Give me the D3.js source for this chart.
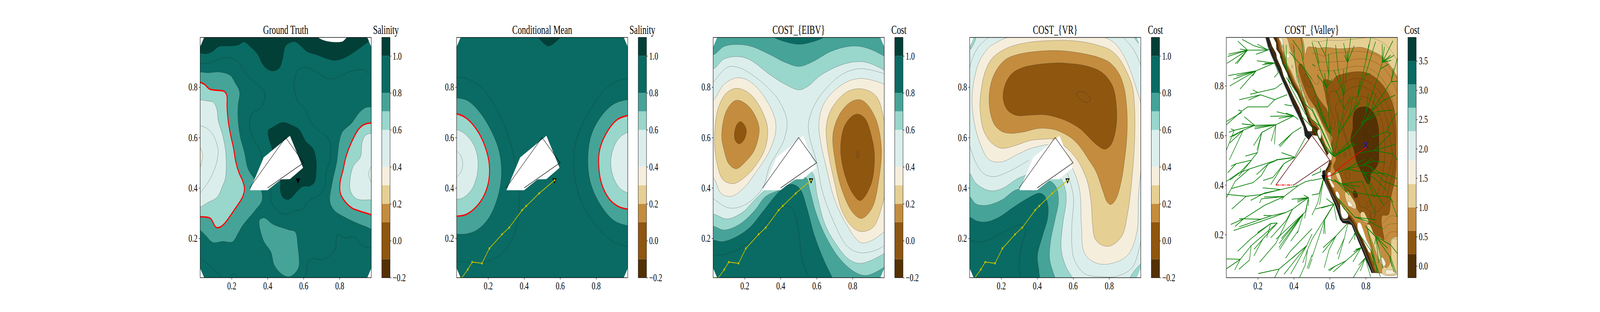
<!DOCTYPE html>
<html lang="en">
<head>
<meta charset="utf-8">
<title>Path planning cost fields</title>
<script src="https://d3js.org/d3.v7.min.js"></script>
<style>
body { margin: 0; background: white; overflow: hidden; }
svg { display: block; }
text { font-family: "Liberation Serif", serif; fill: black; }
</style>
</head>
<body>
<div id="chart"></div>
<script>
// colour bars
var bandColors = ["#543005", "#8f5610", "#c48c3e", "#e6cf93", "#f6eedc", "#dceeeb", "#99d6cc", "#46a398", "#096b63", "#013f37"];
var levelEdges = [-0.2, -0.1, 0.1, 0.2, 0.3, 0.4, 0.6, 0.7, 0.8, 1.0, 1.1];
var valleyEdges = [-0.2, 0.2, 0.6, 1.0, 1.4, 1.8, 2.3, 2.7, 3.1, 3.5, 3.9];
var levelTicks = [-0.2, 0, 0.2, 0.4, 0.6, 0.8, 1.0];
var valleyTicks = [0, 0.5, 1, 1.5, 2, 2.5, 3, 3.5];
var axisTicks = [0.2, 0.4, 0.6, 0.8];

// shared geometry
var obstacle = [[0.3, 0.4], [0.5, 0.6], [0.6, 0.5], [0.4, 0.4]];
var obstacleClosure = [[0.3, 0.4], [0.4, 0.4]];
var obstacleMask = [[0.524, 0.607], [0.597, 0.48], [0.524, 0.435], [0.474, 0.434], [0.4, 0.391], [0.302, 0.391], [0.378, 0.521]];
var cornerMasks = [
  [[0.02, 1.01], [0.047, 1.01], [0.047, 0.997], [0.025, 0.96], [0.02, 0.96]],
  [[0.98, 1.01], [0.954, 1.01], [0.954, 0.997], [0.976, 0.96], [0.98, 0.96]],
  [[0.02, 0.03], [0.047, 0.03], [0.047, 0.044], [0.025, 0.081], [0.02, 0.081]],
  [[0.98, 0.03], [0.954, 0.03], [0.954, 0.044], [0.976, 0.081], [0.98, 0.081]]
];
var agentPath = [[0.05, 0.04], [0.0868, 0.0764], [0.1115, 0.106], [0.166, 0.101], [0.2068, 0.16], [0.2774, 0.216], [0.3174, 0.2428], [0.389, 0.3119], [0.412, 0.3285], [0.4834, 0.3782], [0.5694, 0.4307]];
var agentNow = [0.569, 0.431];

// Ground Truth
var gtTop = [[-0.01, 0.935], [0.025, 0.935], [0.061, 0.932], [0.095, 0.942], [0.129, 0.961], [0.176, 0.963], [0.236, 0.967], [0.27, 0.979], [0.295, 0.966], [0.346, 0.929], [0.372, 0.891], [0.402, 0.87], [0.431, 0.864], [0.466, 0.877], [0.483, 0.911], [0.5, 0.963], [0.551, 0.98], [0.585, 0.963], [0.619, 0.941], [0.67, 0.929], [0.721, 0.915], [0.772, 0.906], [0.823, 0.915], [0.874, 0.936], [0.934, 0.967], [0.99, 1.0], [0.99, 1.03], [-0.01, 1.03]];
var gtTopGap = [[0.675, 1.01], [0.682, 0.997], [0.729, 0.982], [0.806, 0.979], [0.823, 0.984], [0.848, 1.01]];
var gtCentre = [[0.4034, 0.628], [0.4314, 0.642], [0.4825, 0.66], [0.5335, 0.649], [0.5761, 0.631], [0.6101, 0.587], [0.6527, 0.555], [0.6697, 0.511], [0.6697, 0.462], [0.6612, 0.424], [0.6357, 0.408], [0.5931, 0.405], [0.5633, 0.386], [0.5293, 0.36], [0.508, 0.354], [0.4825, 0.365], [0.4706, 0.393], [0.4706, 0.431], [0.4485, 0.476], [0.423, 0.559], [0.4059, 0.6]];
var gtLeftOuter = [[-0.01, 0.8595], [0.0255, 0.8595], [0.074, 0.857], [0.1336, 0.8595], [0.1931, 0.846], [0.2187, 0.818], [0.2442, 0.78], [0.2357, 0.725], [0.2357, 0.669], [0.2485, 0.6], [0.2697, 0.545], [0.291, 0.476], [0.3208, 0.441], [0.3634, 0.393], [0.3693, 0.352], [0.3293, 0.31], [0.2612, 0.251], [0.2357, 0.22], [0.2059, 0.187], [0.1506, 0.188], [0.0953, 0.184], [0.057, 0.21], [0.0255, 0.231], [-0.01, 0.231]];
var gtLeftRed = [[-0.01, 0.83], [0.0255, 0.819], [0.0485, 0.811], [0.0783, 0.792], [0.1251, 0.787], [0.1591, 0.783], [0.1736, 0.766], [0.1744, 0.725], [0.1804, 0.669], [0.1931, 0.614], [0.2102, 0.559], [0.2229, 0.504], [0.24, 0.462], [0.2612, 0.428], [0.2714, 0.397], [0.2612, 0.365], [0.2187, 0.317], [0.1591, 0.258], [0.1336, 0.244], [0.1123, 0.244], [0.0825, 0.279], [0.0485, 0.285], [0.0255, 0.285], [-0.01, 0.285]];
var gtLeftPale = [[-0.01, 0.749], [0.0255, 0.749], [0.0655, 0.745], [0.0995, 0.739], [0.1183, 0.711], [0.1251, 0.669], [0.1506, 0.607], [0.1676, 0.538], [0.1659, 0.441], [0.1506, 0.41], [0.1208, 0.365], [0.0655, 0.341], [0.0255, 0.324], [-0.01, 0.31]];
var gtLeftInner = [[0.0255, 0.647], [0.0655, 0.635], [0.0995, 0.607], [0.1208, 0.566], [0.1251, 0.538], [0.1123, 0.49], [0.074, 0.428], [0.0255, 0.381]];
var gtLeftCream = [[0.0, 0.559], [0.0255, 0.559], [0.0357, 0.538], [0.0383, 0.524], [0.0315, 0.497], [0.0255, 0.483], [0.0, 0.483]];
var gtRightOuter = [[1.0, 0.721], [0.976, 0.721], [0.9463, 0.719], [0.9122, 0.701], [0.8654, 0.656], [0.8144, 0.621], [0.7973, 0.58], [0.7846, 0.504], [0.759, 0.421], [0.7463, 0.345], [0.7718, 0.31], [0.8229, 0.286], [0.891, 0.262], [0.976, 0.236], [1.0, 0.22]];
var gtRightRed = [[1.0, 0.658], [0.976, 0.658], [0.9378, 0.652], [0.908, 0.635], [0.8654, 0.58], [0.8357, 0.524], [0.8187, 0.469], [0.8025, 0.421], [0.8042, 0.379], [0.8314, 0.345], [0.8697, 0.32], [0.9165, 0.307], [0.976, 0.293], [1.0, 0.28]];
var gtRightPale = [[1.0, 0.61], [0.976, 0.616], [0.942, 0.607], [0.925, 0.58], [0.9165, 0.524], [0.874, 0.483], [0.857, 0.421], [0.8612, 0.386], [0.8952, 0.357], [0.976, 0.353], [1.0, 0.353]];
var gtRightInner = [[0.976, 0.486], [0.9607, 0.455], [0.976, 0.422]];
var gtSouth = [[0.3548, 0.272], [0.3804, 0.281], [0.4314, 0.255], [0.5165, 0.234], [0.5548, 0.224], [0.5676, 0.172], [0.5736, 0.089], [0.5506, 0.061], [0.5165, 0.048], [0.474, 0.061], [0.4357, 0.096], [0.4187, 0.145], [0.3804, 0.186], [0.3634, 0.22], [0.3531, 0.255]];
var gtLine1 = [[0.0255, 0.894], [0.0783, 0.897], [0.1421, 0.915], [0.2017, 0.915], [0.2442, 0.891], [0.2782, 0.853], [0.3293, 0.818], [0.3846, 0.777], [0.3804, 0.745], [0.3634, 0.718], [0.3123, 0.694], [0.2995, 0.656], [0.3123, 0.607], [0.3548, 0.552], [0.3804, 0.49], [0.417, 0.386], [0.4187, 0.352], [0.4485, 0.314], [0.4995, 0.296], [0.5506, 0.31], [0.5931, 0.317], [0.6272, 0.348], [0.6867, 0.372], [0.7165, 0.407], [0.725, 0.462], [0.7463, 0.511], [0.7506, 0.559], [0.7378, 0.597], [0.6697, 0.635], [0.6357, 0.669], [0.6144, 0.707], [0.5676, 0.745], [0.5506, 0.78], [0.5489, 0.828], [0.5676, 0.866], [0.6101, 0.879], [0.6612, 0.863], [0.7463, 0.832], [0.7888, 0.839], [0.8484, 0.859], [0.9335, 0.868], [0.976, 0.842]];
var gtLine2 = [[0.6118, 0.0434], [0.6272, 0.11], [0.6527, 0.12], [0.6952, 0.115], [0.7378, 0.127], [0.7761, 0.158], [0.7846, 0.21], [0.7973, 0.214], [0.8314, 0.201], [0.8825, 0.206], [0.925, 0.172], [0.976, 0.164]];
var gtLine3 = [[0.0255, 0.122], [0.0825, 0.089], [0.1251, 0.061], [0.1438, 0.043]];
var gtLine4 = [[0.1863, 0.043], [0.2102, 0.059], [0.24, 0.043]];

// Conditional Mean
var cmTop = [[0.47, 1.01], [0.4799, 0.997], [0.5097, 0.9735], [0.5352, 0.963], [0.565, 0.9735], [0.6, 0.997], [0.61, 1.01]];
var cmLeftLine = [[0.0255, 0.84], [0.0885, 0.832], [0.1736, 0.79], [0.2587, 0.697], [0.3268, 0.573], [0.3693, 0.393], [0.3651, 0.269], [0.3268, 0.186], [0.2587, 0.13], [0.1651, 0.104], [0.0885, 0.104], [0.0255, 0.11]];
var cmLeftOuter = [[-0.01, 0.757], [0.0255, 0.757], [0.0885, 0.745], [0.1566, 0.697], [0.2161, 0.628], [0.2587, 0.552], [0.274, 0.476], [0.2672, 0.407], [0.2417, 0.338], [0.1991, 0.276], [0.1395, 0.234], [0.08, 0.218], [0.0255, 0.217], [-0.01, 0.217]];
var cmLeftRed = [[-0.01, 0.694], [0.0255, 0.694], [0.08, 0.676], [0.1395, 0.628], [0.1821, 0.566], [0.2059, 0.497], [0.2034, 0.428], [0.1736, 0.365], [0.1225, 0.317], [0.0715, 0.293], [0.0255, 0.288], [-0.01, 0.288]];
var cmLeftPale = [[-0.01, 0.631], [0.0255, 0.631], [0.0715, 0.614], [0.1183, 0.573], [0.1412, 0.524], [0.1412, 0.462], [0.114, 0.4], [0.063, 0.362], [0.0255, 0.355], [-0.01, 0.355]];
var cmLeftInner = [[0.0255, 0.545], [0.0459, 0.531], [0.0587, 0.493], [0.0459, 0.459], [0.0255, 0.445]];
var cmRightLine = [[0.976, 0.833], [0.897, 0.818], [0.8118, 0.759], [0.7267, 0.656], [0.6842, 0.573], [0.6757, 0.504], [0.6842, 0.428], [0.7267, 0.331], [0.7948, 0.255], [0.8799, 0.193], [0.976, 0.167]];
var cmRightOuter = [[1.0, 0.75], [0.976, 0.75], [0.897, 0.732], [0.8203, 0.676], [0.7693, 0.6], [0.7548, 0.504], [0.7693, 0.421], [0.8203, 0.338], [0.897, 0.272], [0.976, 0.251], [1.0, 0.251]];
var cmRightRed = [[1.0, 0.687], [0.976, 0.687], [0.914, 0.669], [0.8544, 0.614], [0.8203, 0.552], [0.8144, 0.497], [0.8289, 0.421], [0.8714, 0.358], [0.9225, 0.327], [0.976, 0.316], [1.0, 0.316]];
var cmRightPale = [[1.0, 0.62], [0.976, 0.62], [0.931, 0.6], [0.897, 0.559], [0.8816, 0.5], [0.897, 0.441], [0.931, 0.4], [0.976, 0.381], [1.0, 0.381]];

// COST_{EIBV}
var eibvTopPale = [[0.0, 0.89], [0.0255, 0.873], [0.0851, 0.911], [0.1617, 0.921], [0.2297, 0.908], [0.3404, 0.849], [0.4255, 0.811], [0.5021, 0.789], [0.5531, 0.804], [0.6212, 0.846], [0.7233, 0.884], [0.8, 0.899], [0.8765, 0.898], [0.9769, 0.866], [1.0, 0.85], [1.0, 1.02], [0.0, 1.02]];
var eibvTopMid = [[0.0, 0.945], [0.0255, 0.929], [0.0851, 0.961], [0.1617, 0.969], [0.2382, 0.961], [0.3404, 0.929], [0.4255, 0.898], [0.5021, 0.882], [0.5702, 0.898], [0.6808, 0.942], [0.7659, 0.96], [0.834, 0.962], [0.902, 0.949], [0.9769, 0.922], [1.0, 0.91], [1.0, 1.02], [0.0, 1.02]];
var eibvTopDeep = [[0.35, 1.01], [0.3659, 0.997], [0.4255, 0.98], [0.5021, 0.97], [0.5787, 0.98], [0.6382, 0.997], [0.655, 1.01]];
var eibvLeftCream = [[-0.01, 0.749], [0.0255, 0.749], [0.0851, 0.811], [0.1617, 0.837], [0.2382, 0.818], [0.3234, 0.745], [0.3702, 0.669], [0.3702, 0.614], [0.3319, 0.538], [0.2553, 0.455], [0.2042, 0.407], [0.1276, 0.367], [0.068, 0.379], [0.0255, 0.441], [-0.01, 0.441]];
var eibvLeftSand = [[0.0323, 0.6], [0.051, 0.711], [0.0936, 0.773], [0.1532, 0.795], [0.2297, 0.773], [0.2978, 0.704], [0.3276, 0.635], [0.3148, 0.559], [0.2553, 0.483], [0.1872, 0.435], [0.1361, 0.417], [0.0766, 0.435], [0.0425, 0.511]];
var eibvLeftTan = [[0.0723, 0.607], [0.0936, 0.697], [0.1361, 0.742], [0.1702, 0.747], [0.2297, 0.718], [0.2723, 0.663], [0.2808, 0.625], [0.2553, 0.552], [0.2042, 0.504], [0.1532, 0.476], [0.1106, 0.497], [0.0851, 0.552]];
var eibvLeftDeep = [[0.1429, 0.614], [0.1574, 0.652], [0.1787, 0.663], [0.2042, 0.642], [0.2093, 0.621], [0.1957, 0.59], [0.1702, 0.575], [0.1489, 0.587]];
var eibvRightLine = [[0.9769, 0.853], [0.8382, 0.873], [0.7233, 0.842], [0.5957, 0.739], [0.5548, 0.656], [0.5616, 0.6], [0.6, 0.504], [0.6297, 0.393], [0.6808, 0.289], [0.7659, 0.172], [0.8425, 0.143], [0.9361, 0.155], [0.9769, 0.172]];
var eibvLeftLine = [[0.0255, 0.818], [0.1021, 0.878], [0.1702, 0.877], [0.2978, 0.818], [0.3914, 0.745], [0.4357, 0.663], [0.417, 0.587], [0.3744, 0.531], [0.3404, 0.49], [0.2995, 0.4], [0.2042, 0.334], [0.1106, 0.321], [0.0255, 0.358]];
var eibvRightCream = [[1.0, 0.8], [0.9769, 0.811], [0.834, 0.834], [0.7233, 0.801], [0.6382, 0.732], [0.6127, 0.656], [0.6212, 0.587], [0.6552, 0.476], [0.6978, 0.358], [0.7659, 0.255], [0.8425, 0.184], [0.9106, 0.193], [0.9769, 0.227], [1.0, 0.24]];
var eibvRightSand = [[1.0, 0.55], [0.9769, 0.663], [0.9361, 0.759], [0.8595, 0.792], [0.7659, 0.78], [0.6808, 0.711], [0.6535, 0.642], [0.6638, 0.545], [0.6978, 0.428], [0.7403, 0.31], [0.8, 0.244], [0.851, 0.227], [0.919, 0.248], [0.9769, 0.365], [1.0, 0.45]];
var eibvRightTan = [[0.691, 0.614], [0.7318, 0.697], [0.8, 0.745], [0.8595, 0.745], [0.9276, 0.676], [0.9599, 0.559], [0.9446, 0.428], [0.9106, 0.324], [0.851, 0.279], [0.8, 0.303], [0.7403, 0.393], [0.7021, 0.511]];
var eibvRightDeep = [[0.7335, 0.559], [0.7574, 0.649], [0.8169, 0.692], [0.868, 0.676], [0.9106, 0.587], [0.9216, 0.517], [0.902, 0.414], [0.8425, 0.35], [0.8, 0.379], [0.7531, 0.462]];
var eibvRightCore = [[0.828, 0.546], [0.8365, 0.533], [0.828, 0.519], [0.8212, 0.533]];
var eibvLowPale = [[-0.02, 0.29], [0.0255, 0.296], [0.1021, 0.277], [0.1872, 0.303], [0.2553, 0.352], [0.3148, 0.391], [0.45, 0.44], [0.5744, 0.462], [0.6042, 0.365], [0.6467, 0.255], [0.7063, 0.179], [0.7744, 0.12], [0.8425, 0.101], [0.9769, 0.141], [1.02, 0.17], [1.02, 0.02], [-0.02, 0.02]];
var eibvLowMid = [[-0.02, 0.24], [0.0255, 0.248], [0.0851, 0.233], [0.1702, 0.255], [0.2553, 0.31], [0.3148, 0.365], [0.3914, 0.391], [0.5404, 0.441], [0.5616, 0.393], [0.5957, 0.303], [0.6467, 0.213], [0.7233, 0.124], [0.8085, 0.068], [0.8765, 0.053], [0.9769, 0.086], [1.02, 0.11], [1.02, 0.02], [-0.02, 0.02]];
var eibvLowDeep = [[-0.02, 0.19], [0.0255, 0.193], [0.0766, 0.187], [0.1532, 0.206], [0.2297, 0.244], [0.2978, 0.303], [0.3744, 0.372], [0.4255, 0.407], [0.468, 0.414], [0.5106, 0.393], [0.5446, 0.324], [0.5871, 0.213], [0.6382, 0.117], [0.6876, 0.043], [0.7, 0.02], [-0.02, 0.02]];
var eibvLowLine = [[0.0255, 0.133], [0.0851, 0.136], [0.1702, 0.158], [0.2553, 0.206], [0.3404, 0.276], [0.4085, 0.321], [0.4425, 0.327], [0.4765, 0.303], [0.5021, 0.213], [0.5191, 0.117], [0.5574, 0.043]];

// COST_{VR}
var vrCream = [[0.0398, 0.7175], [0.0398, 0.7795], [0.0547, 0.8467], [0.0794, 0.9036], [0.1289, 0.9553], [0.1783, 0.9786], [0.2352, 0.9967], [0.4, 1.015], [0.62, 1.015], [0.7768, 0.9967], [0.8361, 0.9708], [0.8856, 0.9191], [0.9251, 0.8519], [0.9598, 0.7744], [0.9771, 0.733], [0.985, 0.6], [0.9778, 0.483], [0.9633, 0.372], [0.9548, 0.227], [0.908, 0.1374], [0.8059, 0.0994], [0.7208, 0.1042], [0.6612, 0.1443], [0.6459, 0.2549], [0.6357, 0.393], [0.5931, 0.483], [0.508, 0.566], [0.3761, 0.559], [0.2953, 0.5347], [0.2017, 0.5036], [0.1293, 0.514], [0.0794, 0.583], [0.0547, 0.6451]];
var vrSand = [[0.0819, 0.7382], [0.0893, 0.7899], [0.1091, 0.8571], [0.1437, 0.9088], [0.1932, 0.9398], [0.2624, 0.9631], [0.3613, 0.9786], [0.5048, 0.9853], [0.5641, 0.9853], [0.663, 0.9786], [0.752, 0.9631], [0.8064, 0.9475], [0.8559, 0.9139], [0.9004, 0.857], [0.9301, 0.8002], [0.9425, 0.7071], [0.9425, 0.6037], [0.9378, 0.5313], [0.9208, 0.393], [0.9038, 0.3032], [0.8739, 0.2134], [0.8144, 0.172], [0.7633, 0.172], [0.7208, 0.2], [0.708, 0.2549], [0.6995, 0.3447], [0.6782, 0.4276], [0.6357, 0.4967], [0.6234, 0.5107], [0.5888, 0.5417], [0.5443, 0.5701], [0.4899, 0.5934], [0.4355, 0.5934], [0.3613, 0.5882], [0.2871, 0.5701], [0.213, 0.5572], [0.1783, 0.5624], [0.1338, 0.5882], [0.0992, 0.6348], [0.0843, 0.6968]];
var vrTan = [[0.1328, 0.7588], [0.1437, 0.8157], [0.1734, 0.8674], [0.2228, 0.9088], [0.292, 0.9295], [0.4108, 0.9424], [0.5048, 0.945], [0.5641, 0.9424], [0.663, 0.932], [0.7471, 0.9165], [0.8064, 0.8958], [0.8559, 0.8519], [0.8856, 0.7899], [0.9004, 0.6865], [0.8979, 0.5934], [0.8856, 0.5107], [0.8697, 0.4345], [0.8399, 0.3585], [0.8101, 0.3343], [0.7888, 0.3447], [0.7633, 0.393], [0.7293, 0.4622], [0.6877, 0.5107], [0.6333, 0.5675], [0.5888, 0.5986], [0.5394, 0.6193], [0.4899, 0.6322], [0.4108, 0.6363], [0.3218, 0.6218], [0.2476, 0.6167], [0.203, 0.6244], [0.1635, 0.6503], [0.1388, 0.702]];
var vrDeep = [[0.2105, 0.764], [0.2228, 0.8105], [0.2575, 0.8519], [0.3119, 0.8752], [0.386, 0.8881], [0.5048, 0.8958], [0.5641, 0.8943], [0.663, 0.8855], [0.752, 0.8622], [0.7966, 0.8312], [0.8262, 0.7899], [0.8426, 0.6968], [0.8361, 0.6296], [0.8114, 0.5727], [0.7768, 0.5536], [0.7372, 0.5676], [0.6976, 0.5934], [0.6383, 0.6348], [0.5641, 0.6658], [0.4899, 0.6839], [0.4355, 0.6906], [0.3613, 0.689], [0.2871, 0.6875], [0.2377, 0.7071], [0.2179, 0.733]];
var vrCore = [[0.6195, 0.7744], [0.6333, 0.7831], [0.6581, 0.7806], [0.6828, 0.7682], [0.6952, 0.7537], [0.6877, 0.7407], [0.668, 0.7392], [0.6432, 0.7495], [0.6234, 0.764]];
var vrLineNW = [[0.025, 0.8752], [0.0398, 0.914], [0.0744, 0.9605], [0.1289, 0.9967]];
var vrLineNE = [[0.8782, 0.9967], [0.935, 0.9501], [0.9771, 0.8855]];
var vrLineW = [[0.0255, 0.566], [0.057, 0.5036], [0.0995, 0.4587], [0.1591, 0.4449], [0.2527, 0.469], [0.3548, 0.5105]];
var vrLineS = [[0.5676, 0.4587], [0.6016, 0.3654], [0.5931, 0.2549], [0.5931, 0.172], [0.6059, 0.1167], [0.6612, 0.0614], [0.7633, 0.0476], [0.8484, 0.051], [0.9335, 0.089], [0.9778, 0.1961]];
var vrLowPale = [[-0.02, 0.48], [0.0255, 0.4587], [0.057, 0.4207], [0.1336, 0.3896], [0.2017, 0.3965], [0.3038, 0.4414], [0.4229, 0.462], [0.5293, 0.438], [0.5548, 0.4], [0.5616, 0.3516], [0.5421, 0.2549], [0.5335, 0.1581], [0.5591, 0.089], [0.5974, 0.0434], [0.62, 0.02], [-0.02, 0.02]];
var vrLowMid = [[-0.02, 0.38], [0.0255, 0.3655], [0.057, 0.3378], [0.1166, 0.3309], [0.2017, 0.3516], [0.2868, 0.3931], [0.3974, 0.391], [0.4655, 0.4276], [0.508, 0.4], [0.5182, 0.3447], [0.4995, 0.2756], [0.474, 0.1858], [0.4697, 0.1167], [0.4995, 0.0434], [0.51, 0.02], [-0.02, 0.02]];
var vrLowDeep = [[-0.02, 0.29], [0.0255, 0.2839], [0.0655, 0.2687], [0.1166, 0.2652], [0.1846, 0.2825], [0.2697, 0.324], [0.3463, 0.3585], [0.4144, 0.3792], [0.4442, 0.3654], [0.4612, 0.324], [0.457, 0.2756], [0.4314, 0.2134], [0.4016, 0.1305], [0.4101, 0.0683], [0.4101, 0.02], [-0.02, 0.02]];
var vrLowLine = [[0.0255, 0.1927], [0.074, 0.1858], [0.1506, 0.2], [0.2357, 0.2341], [0.3123, 0.2528], [0.3361, 0.2376], [0.3123, 0.165], [0.2995, 0.0999], [0.3055, 0.0434]];
var vrPatchNW = [[0.03, 0.9656], [0.0472, 0.9967], [0.0596, 0.9967], [0.03, 0.95]];
var vrPatchNE = [[0.9404, 0.9985], [0.955, 0.9985], [0.968, 0.975], [0.962, 0.975]];
var vrPatchSE = [[0.9165, 0.0434], [0.9778, 0.0998], [0.99, 0.0998], [0.99, 0.03], [0.9165, 0.03]];

// COST_{Valley}
var valleyEastEdge = [[0.9680, 0.0443], [0.9764, 0.077], [0.977, 0.9576], [0.9515, 0.995], [0.9515, 1.01]];
var valleyField = [[0.2855, 1.01], [0.2855, 0.995], [0.3013, 0.9732], [0.3038, 0.947], [0.321, 0.9286], [0.3359, 0.8893], [0.3606, 0.8526], [0.3853, 0.8107], [0.4149, 0.774], [0.4396, 0.7347], [0.4643, 0.6902], [0.4816, 0.6535], [0.5014, 0.6326], [0.5014, 0.601], [0.5308, 0.5985], [0.5407, 0.5828], [0.558, 0.5592], [0.585, 0.5173], [0.6, 0.5013], [0.5877, 0.4751], [0.5753, 0.4594], [0.563, 0.4552], [0.558, 0.4489], [0.5679, 0.4174], [0.6074, 0.3546], [0.6716, 0.2471], [0.721, 0.2393], [0.8322, 0.0454]];
var valleyFieldMid = [[0.2963, 1.01], [0.3112, 0.9732], [0.3161, 0.947], [0.331, 0.9286], [0.3457, 0.8893], [0.368, 0.8579], [0.3927, 0.816], [0.4223, 0.7793], [0.447, 0.74], [0.4717, 0.6954], [0.489, 0.664], [0.5014, 0.643], [0.5259, 0.6326], [0.5407, 0.6168], [0.5506, 0.5906], [0.5654, 0.5644], [0.5926, 0.5225], [0.605, 0.4856], [0.5951, 0.4698], [0.5802, 0.4515], [0.5827, 0.4253], [0.6198, 0.3703], [0.6642, 0.3022], [0.7136, 0.2707], [0.7433, 0.234], [0.7778, 0.1816], [0.8075, 0.1345], [0.842, 0.0611], [0.8519, 0.0454]];
var valleyFieldTan = [[0.3087, 1.01], [0.321, 0.9732], [0.3285, 0.947], [0.3408, 0.926], [0.3556, 0.8893], [0.3779, 0.8579], [0.4026, 0.816], [0.4297, 0.7819], [0.4569, 0.74], [0.4791, 0.6954], [0.4964, 0.664], [0.516, 0.6535], [0.5432, 0.6247], [0.558, 0.5906], [0.5753, 0.5592], [0.6, 0.5173], [0.6124, 0.4908], [0.6074, 0.4777], [0.5975, 0.4463], [0.595, 0.4174], [0.6296, 0.3703], [0.6741, 0.3074], [0.7186, 0.276], [0.7531, 0.2393], [0.7877, 0.1869], [0.8174, 0.1345], [0.8519, 0.0611], [0.8618, 0.0454]];
var valleySandStripe = [[0.3186, 0.9967], [0.331, 0.9732], [0.3359, 0.947], [0.3482, 0.926], [0.363, 0.8893], [0.3853, 0.8579], [0.41, 0.816], [0.4347, 0.7819], [0.4618, 0.74], [0.4841, 0.6954], [0.5014, 0.664], [0.521, 0.6483], [0.5457, 0.6221], [0.5605, 0.5906], [0.5778, 0.5592], [0.6025, 0.5173], [0.6173, 0.5173], [0.6074, 0.5592], [0.5827, 0.6064], [0.563, 0.6378], [0.5358, 0.6797], [0.5111, 0.711], [0.494, 0.711], [0.4643, 0.7531], [0.4445, 0.795], [0.4198, 0.8474], [0.4026, 0.905], [0.3803, 0.947], [0.3606, 0.9941]];
var valleySandTop = [[0.4445, 1.0], [0.4544, 0.9732], [0.4643, 0.926], [0.4766, 0.9548], [0.5014, 0.9564], [0.5358, 0.9522], [0.5802, 0.9548], [0.6494, 0.9496], [0.7136, 0.9522], [0.7778, 0.9548], [0.847, 0.9365], [0.8964, 0.9155], [0.9359, 0.8815], [0.9764, 0.8369], [0.99, 0.83], [0.99, 1.01], [0.44, 1.01]];
var valleySandSouth = [[0.9384, 0.1764], [0.9606, 0.1895], [0.9829, 0.1869], [0.983, 0.0454], [0.8915, 0.0428], [0.8964, 0.0716], [0.9162, 0.0664], [0.9359, 0.0873], [0.9409, 0.1345]];
var valleyDeep = [[0.4297, 0.8867], [0.4445, 0.8867], [0.4643, 0.8579], [0.5014, 0.8081], [0.5308, 0.7583], [0.5605, 0.7269], [0.5827, 0.7059], [0.5891, 0.6944], [0.5936, 0.6981], [0.5802, 0.7426], [0.5728, 0.774], [0.563, 0.8055], [0.5654, 0.8238], [0.5901, 0.8238], [0.6124, 0.8186], [0.6346, 0.8369], [0.6741, 0.8474], [0.7235, 0.8553], [0.7778, 0.8563], [0.8223, 0.8474], [0.8717, 0.8212], [0.9211, 0.774], [0.9557, 0.711], [0.968, 0.6378], [0.968, 0.5592], [0.968, 0.5173], [0.968, 0.4646], [0.9606, 0.4174], [0.9409, 0.3546], [0.926, 0.2812], [0.8915, 0.276], [0.8865, 0.2602], [0.8915, 0.2236], [0.9013, 0.179], [0.8816, 0.1895], [0.8569, 0.1974], [0.8272, 0.2236], [0.8075, 0.2498], [0.768, 0.2864], [0.7457, 0.31], [0.7186, 0.3493], [0.6889, 0.3755], [0.6642, 0.4122], [0.6346, 0.4489], [0.6198, 0.4751], [0.6346, 0.5065], [0.605, 0.5487], [0.6148, 0.5906], [0.5802, 0.6221], [0.5506, 0.664], [0.5259, 0.7059], [0.5012, 0.7321], [0.4791, 0.7583], [0.4544, 0.8002], [0.4396, 0.8317], [0.4273, 0.8684]];
var valleyCore = [[0.7284, 0.6483], [0.7334, 0.6902], [0.7531, 0.7085], [0.7927, 0.7154], [0.8223, 0.7085], [0.8519, 0.6797], [0.8692, 0.6378], [0.8727, 0.5854], [0.8727, 0.5173], [0.8717, 0.496], [0.8569, 0.4698], [0.8272, 0.4436], [0.8248, 0.4174], [0.8174, 0.4043], [0.8075, 0.407], [0.7828, 0.4436], [0.7482, 0.496], [0.7334, 0.5435], [0.7161, 0.58], [0.721, 0.6064], [0.7284, 0.6273]];
var valleyCoreSmall = [[0.7284, 0.3677], [0.7383, 0.3781], [0.7531, 0.365], [0.7531, 0.3519], [0.7383, 0.3483], [0.7309, 0.3572]];
var valleySandBlobs = [
  [[0.6321, 0.4489], [0.6445, 0.4541], [0.6642, 0.4227], [0.6667, 0.3991], [0.6494, 0.4174], [0.637, 0.4332]],
  [[0.684, 0.3677], [0.6988, 0.3729], [0.7235, 0.3493], [0.7433, 0.3231], [0.7457, 0.3048], [0.7235, 0.3074], [0.6988, 0.3231]],
  [[0.7704, 0.2864], [0.7877, 0.2917], [0.805, 0.2707], [0.8174, 0.2498], [0.7976, 0.2498], [0.7754, 0.2655]],
  [[0.8075, 0.2393], [0.8223, 0.2393], [0.847, 0.1974], [0.8569, 0.1764], [0.8816, 0.1292], [0.8865, 0.0978], [0.8717, 0.103], [0.842, 0.1607], [0.8174, 0.2078]]
];
var valleyCreamBlobs = [
  [[0.6963, 0.3336], [0.7087, 0.3336], [0.7284, 0.3153], [0.7136, 0.3126]],
  [[0.8816, 0.0978], [0.8915, 0.1083], [0.9112, 0.0821], [0.9013, 0.0716], [0.8865, 0.0821]],
  [[0.9112, 0.0559], [0.9458, 0.0559], [0.9656, 0.0454], [0.9112, 0.042]],
  [[0.3161, 0.9915], [0.3334, 0.9915], [0.3408, 0.9732], [0.3359, 0.9574], [0.326, 0.9784]],
  [[0.5308, 0.6168], [0.5432, 0.6247], [0.5531, 0.6011], [0.5457, 0.5854]],
  [[0.585, 0.5173], [0.6, 0.5304], [0.6124, 0.5094], [0.6025, 0.4989]]
];
var valleyHoles = [
  [[0.5901, 0.4489], [0.6025, 0.4515], [0.6074, 0.4174], [0.6247, 0.3939], [0.6173, 0.3897], [0.6, 0.4122], [0.5891, 0.4358]],
  [[0.6321, 0.3703], [0.642, 0.3729], [0.6543, 0.3546], [0.6519, 0.3441], [0.642, 0.3493]],
  [[0.6593, 0.3231], [0.6741, 0.3074], [0.7013, 0.2812], [0.6988, 0.2681], [0.6741, 0.2655], [0.6618, 0.2864]],
  [[0.7556, 0.2445], [0.768, 0.2471], [0.7828, 0.2236], [0.8025, 0.1816], [0.8272, 0.1397], [0.8223, 0.1266], [0.8025, 0.1502], [0.7828, 0.1816], [0.7556, 0.2236]],
  [[0.8371, 0.103], [0.843, 0.0978], [0.8396, 0.0952]],
  [[0.7013, 0.3242], [0.7112, 0.3257], [0.7146, 0.3168], [0.7062, 0.3153]],
  [[0.3606, 0.926], [0.368, 0.9286], [0.3729, 0.9181], [0.3655, 0.9145]]
];
var valleyWallUpper = [[0.2375, 1.01], [0.2568, 0.9574], [0.2766, 0.9208], [0.3062, 0.8736], [0.3359, 0.8212], [0.3655, 0.774], [0.3951, 0.7216], [0.4248, 0.6797], [0.4544, 0.6326], [0.4618, 0.5985], [0.4816, 0.5828], [0.5014, 0.6011], [0.5014, 0.6037], [0.4767, 0.6195], [0.4569, 0.6561], [0.4297, 0.7112], [0.4001, 0.7531], [0.368, 0.8029], [0.3433, 0.8395], [0.331, 0.871], [0.3062, 0.9103], [0.3013, 0.9312], [0.279, 0.96], [0.2642, 0.9915], [0.262, 1.01]];
var valleyWallUpperBrown = [[0.2519, 1.01], [0.2692, 0.9574], [0.289, 0.9208], [0.3186, 0.8736], [0.3482, 0.8212], [0.3779, 0.774], [0.4075, 0.7216], [0.4371, 0.6797], [0.4643, 0.6378], [0.4767, 0.6168], [0.5014, 0.6168], [0.5014, 0.6037], [0.4767, 0.6195], [0.4569, 0.6561], [0.4297, 0.7112], [0.4001, 0.7531], [0.368, 0.8029], [0.3433, 0.8395], [0.331, 0.871], [0.3062, 0.9103], [0.3013, 0.9312], [0.279, 0.96], [0.2642, 0.9915], [0.262, 1.01]];
var valleyWallUpperEdge = [[0.2375, 1.01], [0.2568, 0.9574], [0.2766, 0.9208], [0.3062, 0.8736], [0.3359, 0.8212], [0.3655, 0.774], [0.3951, 0.7216], [0.4248, 0.6797], [0.4544, 0.6326], [0.4618, 0.5985]];
var valleyWallLowerOut = [[0.558, 0.4552], [0.5605, 0.4332], [0.5679, 0.4174], [0.5901, 0.386], [0.6074, 0.3546], [0.6222, 0.3336], [0.6395, 0.2969], [0.6568, 0.2602], [0.6716, 0.2471], [0.7087, 0.2445], [0.721, 0.2393], [0.7383, 0.2078], [0.763, 0.1659], [0.7877, 0.124], [0.8075, 0.0873], [0.8322, 0.0454]];
var valleyWallLowerIn = [[0.842, 0.0454], [0.8223, 0.0821], [0.8025, 0.1135], [0.7828, 0.1502], [0.763, 0.1816], [0.7433, 0.2131], [0.7284, 0.2419], [0.7087, 0.2576], [0.6741, 0.2576], [0.6618, 0.276], [0.6494, 0.3022], [0.6346, 0.3284], [0.6198, 0.3493], [0.5975, 0.3781], [0.5778, 0.4122], [0.5753, 0.4279], [0.5778, 0.4567], [0.5679, 0.4604]];
var valleyLines = [
  [[0.5012, 0.981], [0.5457, 0.9784], [0.5852, 0.9836], [0.6593, 0.9826], [0.7383, 0.9889], [0.8025, 0.9941]],
  [[0.8322, 0.9941], [0.8964, 0.9732], [0.9458, 0.9365], [0.9764, 0.8998]],
  [[0.5012, 0.9312], [0.5308, 0.9286], [0.5704, 0.9197], [0.6148, 0.9312], [0.6642, 0.9339], [0.7383, 0.9391], [0.8174, 0.9339], [0.8766, 0.9181], [0.926, 0.8788], [0.9764, 0.8264]],
  [[0.5308, 0.8998], [0.5802, 0.8946], [0.6247, 0.8972], [0.6889, 0.8998], [0.7482, 0.9077], [0.8174, 0.905], [0.8865, 0.8788], [0.9359, 0.8369], [0.9705, 0.7793]],
  [[0.5308, 0.8631], [0.5654, 0.8605], [0.6099, 0.8605], [0.6741, 0.8684], [0.7383, 0.8788], [0.8075, 0.8736], [0.8816, 0.8369], [0.926, 0.7845], [0.9606, 0.7216]],
  [[0.5308, 0.8474], [0.5383, 0.8107], [0.521, 0.8081], [0.5012, 0.8264]],
  [[0.6025, 0.6064], [0.6, 0.6326], [0.6198, 0.6273], [0.6296, 0.6483], [0.6049, 0.7059], [0.5951, 0.7636], [0.605, 0.7767], [0.6395, 0.7793], [0.6642, 0.8055], [0.7087, 0.8238], [0.768, 0.8291], [0.837, 0.8055], [0.9013, 0.7478], [0.9409, 0.6797], [0.9606, 0.5906], [0.9631, 0.5173], [0.9557, 0.4646], [0.9359, 0.4122], [0.9162, 0.344]],
  [[0.7186, 0.5173], [0.6889, 0.5854], [0.6642, 0.6378], [0.6395, 0.6797], [0.6321, 0.7164], [0.6494, 0.7374], [0.6741, 0.7478], [0.684, 0.774], [0.7235, 0.7924], [0.7778, 0.7976], [0.8371, 0.774], [0.8816, 0.7321], [0.9211, 0.6483], [0.9359, 0.5854], [0.9483, 0.5173], [0.9359, 0.4751], [0.9162, 0.4227], [0.8964, 0.3598]],
  [[0.7136, 0.5435], [0.679, 0.6221], [0.6741, 0.6588], [0.6988, 0.711], [0.7185, 0.7426], [0.7581, 0.7583], [0.8272, 0.7426], [0.8618, 0.711], [0.8915, 0.6483], [0.9038, 0.5854], [0.9063, 0.517], [0.8964, 0.4541], [0.8816, 0.4122], [0.8668, 0.3703], [0.847, 0.3546], [0.8272, 0.3598]],
  [[0.7136, 0.4122], [0.7383, 0.3808], [0.7581, 0.3388], [0.768, 0.3153], [0.7976, 0.3074], [0.8223, 0.2917], [0.8272, 0.2707], [0.8569, 0.2445]],
  [[0.8519, 0.3179], [0.8569, 0.2917], [0.8865, 0.3074], [0.926, 0.3388]],
  [[0.8964, 0.2445], [0.9112, 0.2602], [0.9409, 0.276], [0.9754, 0.2707]],
  [[0.9013, 0.2236], [0.9211, 0.2393], [0.9754, 0.2445]],
  [[0.9112, 0.1816], [0.931, 0.2078], [0.9754, 0.2105]],
  [[0.9384, 0.1554], [0.9483, 0.1816], [0.9754, 0.1816]]
];
var valleyRings = [
  [[0.7887, 0.6142], [0.7976, 0.6221], [0.8075, 0.6011], [0.8114, 0.5802], [0.8025, 0.5775], [0.7927, 0.5959]],
  [[0.5086, 0.7531], [0.5185, 0.7583], [0.5308, 0.7374], [0.5506, 0.6902], [0.5358, 0.6954], [0.5111, 0.7374]],
  [[0.5605, 0.664], [0.5704, 0.6719], [0.5778, 0.6561], [0.5753, 0.6483], [0.563, 0.6535]],
  [[0.6395, 0.554], [0.6543, 0.533], [0.6543, 0.5147], [0.6395, 0.5225], [0.6306, 0.5409]],
  [[0.679, 0.5225], [0.685, 0.533], [0.6914, 0.5173], [0.684, 0.5121]],
  [[0.6865, 0.4541], [0.6963, 0.4594], [0.7112, 0.4436], [0.7087, 0.4279], [0.6939, 0.4253]],
  [[0.8025, 0.3205], [0.8174, 0.3362], [0.8248, 0.3231], [0.8223, 0.3126], [0.8075, 0.3126]],
  [[0.8272, 0.2812], [0.8371, 0.2917], [0.8519, 0.2812], [0.847, 0.2655], [0.8322, 0.2629]],
  [[0.3877, 0.8815], [0.3927, 0.8825], [0.3951, 0.8736], [0.3892, 0.8736]],
  [[0.4149, 0.8422], [0.4248, 0.8369], [0.4297, 0.8107], [0.4198, 0.816]],
  [[0.4371, 0.8029], [0.447, 0.795], [0.4495, 0.7793], [0.4396, 0.7845]],
  [[0.4594, 0.7557], [0.4717, 0.7505], [0.4766, 0.7321], [0.4643, 0.74]],
  [[0.4569, 0.8422], [0.4692, 0.8448], [0.494, 0.8107], [0.489, 0.795], [0.4643, 0.8107]],
  [[0.3853, 0.9679], [0.3951, 0.9679], [0.405, 0.9365], [0.3951, 0.9365]]
];
var valleyBestPath = [[0.799, 0.5618], [0.799, 0.5514], [0.7531, 0.5251], [0.7136, 0.5016], [0.684, 0.4856], [0.6074, 0.4384], [0.5753, 0.4332]];
var valleyGoal = [0.8, 0.5618];
var valleyStart = [0.5654, 0.433];

// RRT tree, one polyline per branch
var treeBranches = [
  // north west, outside the wall
  [[0.2716, 0.9574], [0.2568, 0.9443], [0.1422, 0.9438], [0.0286, 0.8904]],
  [[0.1422, 0.9438], [0.037, 0.9276]], [[0.1422, 0.9438], [0.0321, 0.918]], [[0.1422, 0.9438], [0.074, 0.8883]], [[0.1422, 0.9438], [0.0839, 0.8893]], [[0.1422, 0.9438], [0.1012, 0.948]], [[0.1422, 0.9438], [0.0898, 0.9795]],
  [[0.1126, 0.9873], [0.1778, 0.9616], [0.2568, 0.9443]], [[0.1975, 0.9679], [0.2568, 0.9443]], [[0.1901, 0.927], [0.2568, 0.9443]],
  [[0.3038, 0.8736], [0.2914, 0.8919], [0.1901, 0.8605], [0.0355, 0.8411]],
  [[0.1951, 0.9008], [0.2914, 0.8919]], [[0.2247, 0.8851], [0.2914, 0.8919]], [[0.2371, 0.8904], [0.2914, 0.8919]],
  [[0.1901, 0.8605], [0.0642, 0.8264]], [[0.1901, 0.8605], [0.0815, 0.8395]], [[0.1901, 0.8605], [0.0434, 0.7992]], [[0.1901, 0.8605], [0.1012, 0.7871]], [[0.1901, 0.8605], [0.1704, 0.8395]],
  [[0.3038, 0.8736], [0.3136, 0.8526], [0.2914, 0.8343]],
  [[0.3359, 0.8107], [0.2954, 0.7887], [0.2, 0.773], [0.158, 0.7662]], [[0.2, 0.773], [0.1719, 0.7835]],
  [[0.363, 0.7646], [0.2939, 0.7442], [0.2148, 0.7636], [0.0963, 0.7437]], [[0.2148, 0.7636], [0.1481, 0.7426]],
  [[0.2939, 0.7442], [0.2544, 0.7148], [0.1432, 0.7148], [0.1111, 0.6981], [0.0256, 0.643]], [[0.1111, 0.6981], [0.0913, 0.7023]], [[0.1111, 0.6928], [0.0256, 0.6561]],
  [[0.4248, 0.664], [0.4001, 0.6787], [0.3003, 0.643], [0.1827, 0.6404], [0.1244, 0.6755]],
  [[0.4001, 0.6787], [0.3052, 0.6954]], [[0.4001, 0.6787], [0.2692, 0.6771]], [[0.4001, 0.6787], [0.3161, 0.6692]], [[0.4001, 0.6787], [0.3556, 0.6902]],
  [[0.1827, 0.6404], [0.1111, 0.6467]], [[0.3003, 0.643], [0.1817, 0.6263]], [[0.3003, 0.643], [0.1827, 0.6336]],
  [[0.1827, 0.6404], [0.1185, 0.6205], [0.0444, 0.5697]], [[0.1185, 0.6205], [0.0592, 0.5959]], [[0.1185, 0.6205], [0.0419, 0.5016]],
  [[0.1827, 0.6404], [0.0691, 0.6205], [0.0256, 0.5409]], [[0.0691, 0.6205], [0.0503, 0.6263]], [[0.0691, 0.6205], [0.0395, 0.6126]], [[0.1185, 0.6205], [0.0444, 0.5933]],
  [[0.3003, 0.643], [0.2222, 0.6116], [0.1768, 0.5592]], [[0.2222, 0.6116], [0.1951, 0.5409]], [[0.2222, 0.6116], [0.1975, 0.5304], [0.1308, 0.5162]], [[0.1975, 0.5304], [0.1654, 0.5016]],
  [[0.3003, 0.643], [0.2741, 0.576]], [[0.3003, 0.643], [0.2924, 0.5634]],
  [[0.4421, 0.6326], [0.3927, 0.6105], [0.3161, 0.5592]], [[0.3927, 0.6105], [0.322, 0.554]],
  [[0.4643, 0.5906], [0.405, 0.5121], [0.3319, 0.5304]], [[0.405, 0.5121], [0.3013, 0.5016]],
  // upper stripe
  [[0.3398, 0.9669], [0.3606, 0.8631], [0.3779, 0.8081], [0.3596, 0.8343]], [[0.3581, 0.9653], [0.3581, 0.9155], [0.3606, 0.8631]],
  [[0.3976, 0.9627], [0.4149, 0.8474], [0.4495, 0.7583], [0.4742, 0.6902]],
  [[0.3754, 0.9365], [0.4643, 0.8631], [0.5014, 0.8264]],
  [[0.3951, 0.9836], [0.4396, 0.9365], [0.4643, 0.8579], [0.4989, 0.8107]],
  [[0.4396, 0.9941], [0.447, 0.9627], [0.4544, 0.905]],
  [[0.3235, 0.9181], [0.3655, 0.8579]],
  [[0.3606, 0.8317], [0.4544, 0.7321], [0.5014, 0.7007], [0.6237, 0.5147]],
  [[0.3482, 0.7243], [0.3902, 0.719]], [[0.3754, 0.8055], [0.4643, 0.685], [0.5014, 0.664], [0.5506, 0.6326], [0.6237, 0.5147]],
  [[0.4396, 0.6797], [0.5014, 0.6326], [0.5506, 0.5802], [0.6237, 0.5147]],
  [[0.5012, 0.8055], [0.5506, 0.6902], [0.6025, 0.6064]], [[0.5012, 0.7085], [0.5506, 0.6326]],
  // north east, inside the field
  [[0.6988, 0.8935], [0.6766, 0.9721]], [[0.6988, 0.8935], [0.7161, 0.993]], [[0.6988, 0.8935], [0.6978, 0.9391]], [[0.6988, 0.8935], [0.7359, 0.9616]], [[0.6988, 0.8935], [0.6815, 0.9234]],
  [[0.6988, 0.8935], [0.6741, 0.7374], [0.679, 0.7059], [0.6494, 0.6064], [0.6237, 0.5147]],
  [[0.679, 0.7059], [0.6321, 0.7845]], [[0.6741, 0.7583], [0.6642, 0.8107], [0.6469, 0.8631], [0.6321, 0.9653]], [[0.6716, 0.7793], [0.6222, 0.8642]], [[0.6741, 0.7583], [0.6766, 0.8657]],
  [[0.679, 0.7059], [0.7161, 0.7557]], [[0.6494, 0.6064], [0.7136, 0.685], [0.726, 0.7583]], [[0.6494, 0.6064], [0.6435, 0.6954]],
  [[0.5827, 0.7924], [0.563, 0.8212]], [[0.5827, 0.7924], [0.5704, 0.8526]], [[0.5827, 0.7924], [0.5299, 0.8432]], [[0.5827, 0.7924], [0.6138, 0.8275]], [[0.5827, 0.7924], [0.5951, 0.8422], [0.5936, 0.9286]],
  [[0.5827, 0.7924], [0.6025, 0.6064], [0.6237, 0.5147]], [[0.6025, 0.6064], [0.6089, 0.6588]], [[0.6025, 0.6064], [0.5308, 0.7426]], [[0.6025, 0.6064], [0.521, 0.7243]],
  [[0.5951, 0.8422], [0.5753, 0.9234], [0.5358, 0.9784]], [[0.5753, 0.9234], [0.5862, 0.9915]],
  [[0.5012, 0.9758], [0.5457, 0.8631], [0.5753, 0.8107]], [[0.521, 0.9574], [0.5407, 0.8893]], [[0.5037, 0.8867], [0.5185, 0.8788]],
  [[0.6237, 0.5147], [0.7136, 0.5802], [0.7729, 0.6326], [0.8, 0.6902], [0.8816, 0.8684], [0.8915, 0.8946]],
  [[0.8915, 0.8946], [0.8915, 0.9679]], [[0.8915, 0.8946], [0.9038, 0.9574]], [[0.8915, 0.8946], [0.9507, 0.981]], [[0.8915, 0.8946], [0.9384, 0.9234]], [[0.8915, 0.8946], [0.9582, 0.9234]], [[0.8915, 0.8946], [0.9409, 0.9024]],
  [[0.8816, 0.8684], [0.926, 0.8867]],
  [[0.7729, 0.6326], [0.8322, 0.6981], [0.8964, 0.74], [0.9631, 0.7625]], [[0.8322, 0.6981], [0.8569, 0.7714]], [[0.8322, 0.6981], [0.9409, 0.816], [0.9532, 0.871]], [[0.9409, 0.816], [0.9754, 0.8186]], [[0.9409, 0.816], [0.9754, 0.9103]],
  [[0.8, 0.6902], [0.8134, 0.7688]], [[0.8, 0.6902], [0.8371, 0.774]],
  [[0.7729, 0.6483], [0.8766, 0.6876]], [[0.7729, 0.6483], [0.8618, 0.6954], [0.9532, 0.7033]],
  [[0.7284, 0.6981], [0.7556, 0.7583], [0.7976, 0.8422], [0.8248, 0.85]], [[0.7976, 0.8422], [0.8544, 0.9784]], [[0.7556, 0.7583], [0.8, 0.8998], [0.8272, 0.9941]], [[0.8, 0.8998], [0.8174, 0.9679]], [[0.7556, 0.7583], [0.768, 0.8264]],
  [[0.6494, 0.6064], [0.7284, 0.6981], [0.7754, 0.7515]], [[0.7284, 0.6981], [0.767, 0.7321]],
  [[0.6237, 0.5147], [0.7309, 0.5723]], [[0.6237, 0.5147], [0.7309, 0.567]], [[0.6237, 0.5147], [0.7482, 0.567]],
  [[0.7531, 0.5277], [0.847, 0.5393], [0.9409, 0.609]], [[0.847, 0.5393], [0.9656, 0.5644]], [[0.847, 0.5393], [0.9507, 0.5251], [0.9754, 0.5016]],
  [[0.8361, 0.5933], [0.9137, 0.6142], [0.9458, 0.6064]], [[0.9137, 0.6142], [0.9557, 0.6745], [0.9754, 0.6902]],
  [[0.6237, 0.5147], [0.5506, 0.5802]], [[0.6237, 0.5147], [0.5654, 0.554]],
  // south east, inside the field
  [[0.6074, 0.4384], [0.6914, 0.4646], [0.7853, 0.4515], [0.9063, 0.4463], [0.9754, 0.4253]],
  [[0.6914, 0.4646], [0.7927, 0.5039]], [[0.6914, 0.4646], [0.7853, 0.4803], [0.8396, 0.5091]], [[0.7853, 0.4803], [0.842, 0.4971], [0.9112, 0.4908]], [[0.7853, 0.4803], [0.8174, 0.4761], [0.9013, 0.4148], [0.9754, 0.3939]], [[0.8174, 0.4761], [0.9162, 0.4332]],
  [[0.7853, 0.4515], [0.847, 0.4279], [0.9162, 0.3781]], [[0.7828, 0.4646], [0.7853, 0.4515], [0.8495, 0.3493]], [[0.7853, 0.4515], [0.9013, 0.3153]],
  [[0.5753, 0.4279], [0.6692, 0.4043], [0.7803, 0.4148], [0.8569, 0.2786]], [[0.6692, 0.4043], [0.768, 0.3928]], [[0.6692, 0.4043], [0.7383, 0.3834]],
  [[0.6247, 0.4227], [0.7136, 0.3729], [0.847, 0.3572], [0.9334, 0.3519], [0.9754, 0.2707]], [[0.9334, 0.3519], [0.9532, 0.3294]], [[0.6247, 0.4227], [0.7087, 0.3598]],
  [[0.6346, 0.3546], [0.7383, 0.2707], [0.8272, 0.2498], [0.8964, 0.2225]], [[0.7383, 0.2707], [0.8594, 0.2592]], [[0.6494, 0.3388], [0.7037, 0.2812]],
  [[0.7976, 0.234], [0.9211, 0.145]], [[0.7976, 0.234], [0.847, 0.1974], [0.9384, 0.158], [0.9754, 0.124]],
  [[0.8569, 0.1921], [0.8717, 0.0847]], [[0.8569, 0.1921], [0.8964, 0.0637]], [[0.8569, 0.1921], [0.8495, 0.1607]], [[0.8075, 0.2288], [0.8668, 0.0454]],
  [[0.8569, 0.1921], [0.931, 0.1135], [0.9458, 0.0716]], [[0.9359, 0.1135], [0.968, 0.0454]], [[0.931, 0.1135], [0.9581, 0.048]],
  [[0.7482, 0.2183], [0.8297, 0.1345], [0.8643, 0.0454]], [[0.8297, 0.1345], [0.847, 0.0742]], [[0.8297, 0.1345], [0.8816, 0.0297]],
  // south of the start, between the wall and the obstacle
  [[0.5654, 0.4279], [0.5012, 0.4185]], [[0.5654, 0.4279], [0.5333, 0.3284], [0.5012, 0.2786]], [[0.5654, 0.4279], [0.5432, 0.3205]], [[0.5654, 0.4279], [0.5407, 0.365], [0.5012, 0.3598]],
  [[0.5012, 0.4384], [0.5506, 0.4541], [0.5481, 0.4672]],
  [[0.6222, 0.3221], [0.5812, 0.3451]], [[0.6222, 0.3221], [0.521, 0.3032]], [[0.6222, 0.3221], [0.5531, 0.3074]], [[0.6222, 0.3221], [0.638, 0.2576]], [[0.6222, 0.3221], [0.5704, 0.2576], [0.5654, 0.2026]], [[0.5704, 0.2576], [0.5743, 0.2026]], [[0.5704, 0.2576], [0.5012, 0.1083]], [[0.6222, 0.3221], [0.5012, 0.1816]],
  [[0.7013, 0.2472], [0.6346, 0.1947], [0.563, 0.1476]], [[0.6346, 0.1947], [0.5595, 0.1266]], [[0.7013, 0.2472], [0.6815, 0.1869], [0.6405, 0.1214]], [[0.6815, 0.1869], [0.6469, 0.1004]], [[0.6346, 0.1947], [0.5951, 0.1371], [0.5694, 0.0664]],
  [[0.7408, 0.2052], [0.7062, 0.1649]], [[0.7408, 0.2052], [0.7334, 0.2026]], [[0.7408, 0.2052], [0.7383, 0.179]], [[0.7408, 0.2052], [0.7531, 0.2026]],
  [[0.7739, 0.1476], [0.6889, 0.0936], [0.6272, 0.0716], [0.5911, 0.057]], [[0.6889, 0.0936], [0.6188, 0.0496]], [[0.6272, 0.0716], [0.5975, 0.0533]], [[0.7739, 0.1476], [0.7324, 0.1303]], [[0.7739, 0.1476], [0.7284, 0.0899]], [[0.7739, 0.1476], [0.7433, 0.1397]],
  [[0.7966, 0.1057], [0.7605, 0.0768]], [[0.7966, 0.1057], [0.7704, 0.0533]], [[0.7966, 0.1057], [0.7309, 0.027]], [[0.7966, 0.1057], [0.8272, 0.0297]],
  // south west
  [[0.1654, 0.5002], [0.079, 0.4856], [0.0321, 0.4489]], [[0.079, 0.4856], [0.0518, 0.4761]], [[0.1654, 0.5002], [0.0938, 0.4358]], [[0.1654, 0.5002], [0.0987, 0.4489], [0.0444, 0.4201]],
  [[0.1531, 0.4646], [0.074, 0.4148], [0.0256, 0.3493]], [[0.1531, 0.4646], [0.0938, 0.4489], [0.0256, 0.4148]], [[0.1531, 0.4646], [0.3087, 0.5013], [0.405, 0.5107]],
  [[0.3087, 0.5013], [0.2568, 0.4845], [0.1926, 0.4421]], [[0.405, 0.5107], [0.3457, 0.4866], [0.284, 0.4305], [0.2296, 0.4185]], [[0.3457, 0.4866], [0.2716, 0.4017]],
  [[0.0543, 0.386], [0.1738, 0.4096], [0.2198, 0.4384], [0.2568, 0.4845]],
  [[0.0256, 0.3624], [0.1358, 0.3546], [0.2099, 0.3608], [0.3285, 0.3818]], [[0.1358, 0.3546], [0.0553, 0.3032]], [[0.3285, 0.3818], [0.2272, 0.3886]], [[0.3285, 0.3818], [0.2371, 0.3677], [0.1605, 0.3378]], [[0.2099, 0.3608], [0.2568, 0.3692]],
  [[0.3285, 0.3818], [0.4248, 0.3975], [0.4643, 0.4132], [0.5014, 0.4201]], [[0.2099, 0.3273], [0.2198, 0.3441], [0.3457, 0.3535], [0.2346, 0.3519]], [[0.3457, 0.3535], [0.3319, 0.3399]], [[0.3457, 0.3535], [0.4248, 0.3975]],
  [[0.3457, 0.3535], [0.2371, 0.3179], [0.1926, 0.2969], [0.121, 0.2639], [0.0493, 0.2408]], [[0.121, 0.2639], [0.074, 0.2325]],
  [[0.4816, 0.3493], [0.3877, 0.3425]], [[0.4816, 0.3493], [0.4189, 0.3388]], [[0.4816, 0.3493], [0.4198, 0.331]], [[0.4816, 0.3493], [0.4554, 0.3588]], [[0.4816, 0.3493], [0.4816, 0.3153]], [[0.4816, 0.3493], [0.4604, 0.2655]], [[0.4816, 0.3493], [0.4643, 0.2917], [0.452, 0.2838]],
  [[0.4816, 0.3493], [0.3927, 0.3022], [0.3556, 0.2891], [0.2766, 0.276], [0.2321, 0.2775]], [[0.2766, 0.276], [0.2173, 0.2618], [0.0963, 0.2644]], [[0.2173, 0.2618], [0.0963, 0.2314]], [[0.3556, 0.2891], [0.205, 0.2498], [0.0651, 0.2162]],
  [[0.3927, 0.3022], [0.3556, 0.255], [0.2716, 0.1869]], [[0.3927, 0.3022], [0.3013, 0.1659], [0.2099, 0.0889]],
  [[0.3087, 0.2471], [0.2716, 0.2445], [0.163, 0.1843], [0.0879, 0.1329]], [[0.2716, 0.2445], [0.1975, 0.2078]], [[0.2716, 0.2445], [0.2494, 0.1869]],
  [[0.3087, 0.2471], [0.2272, 0.1816], [0.1778, 0.1135]], [[0.2272, 0.1816], [0.1788, 0.1408]], [[0.3087, 0.2471], [0.163, 0.1554], [0.1027, 0.1004], [0.0256, 0.0622]], [[0.1027, 0.1004], [0.0256, 0.102]], [[0.1027, 0.1004], [0.0716, 0.0574]], [[0.163, 0.1554], [0.1541, 0.0978], [0.0948, 0.0601]],
  [[0.452, 0.2838], [0.3186, 0.1649]], [[0.452, 0.2838], [0.3309, 0.1843]], [[0.452, 0.2838], [0.3171, 0.1476]], [[0.452, 0.2838], [0.321, 0.1397]], [[0.452, 0.2838], [0.3013, 0.1816]], [[0.452, 0.2838], [0.4248, 0.2157], [0.3833, 0.1738]], [[0.4248, 0.2157], [0.4198, 0.2052]],
  [[0.5014, 0.2236], [0.3828, 0.1345], [0.3546, 0.1057]], [[0.5014, 0.2026], [0.4717, 0.1554], [0.3877, 0.103]], [[0.4717, 0.1554], [0.3186, 0.0611], [0.2025, 0.0428]], [[0.3186, 0.0611], [0.2939, 0.027]], [[0.4717, 0.1554], [0.3457, 0.0401]], [[0.4717, 0.1554], [0.3828, 0.0412]],
  [[0.5014, 0.1816], [0.4767, 0.1397], [0.4643, 0.0795], [0.4322, 0.027]], [[0.4767, 0.1397], [0.4495, 0.0863]], [[0.5014, 0.1187], [0.4742, 0.0637]], [[0.5014, 0.103], [0.4816, 0.0611]]
];

// panel settings
var panels = [
  { title: "Ground Truth", unit: "Salinity", left: 750.6, edges: levelEdges, ticks: levelTicks, base: 8,
    layers: [[gtTop, 9], [gtTopGap, -1], [gtCentre, 9], [gtLeftOuter, 7], [gtRightOuter, 7], [gtSouth, 7], [gtLeftRed, 6], [gtRightRed, 6], [gtLeftPale, 5], [gtRightPale, 5], [gtLeftCream, 4]],
    lines: [gtLine1, gtLine2, gtLine3, gtLine4, gtLeftInner, gtRightInner], red: [gtLeftRed, gtRightRed], path: false },
  { title: "Conditional Mean", unit: "Salinity", left: 1712.4, edges: levelEdges, ticks: levelTicks, base: 8,
    layers: [[cmTop, 9], [cmLeftOuter, 7], [cmRightOuter, 7], [cmLeftRed, 6], [cmRightRed, 6], [cmLeftPale, 5], [cmRightPale, 5]],
    lines: [cmLeftLine, cmRightLine, cmLeftInner], red: [cmLeftRed, cmRightRed], path: true },
  { title: "COST_{EIBV}", unit: "Cost", left: 2674.4, edges: levelEdges, ticks: levelTicks, base: 5,
    layers: [[eibvTopPale, 6], [eibvTopMid, 7], [eibvTopDeep, 8], [eibvLowPale, 6], [eibvLowMid, 7], [eibvLowDeep, 8],
      [eibvLeftCream, 4], [eibvRightCream, 4], [eibvLeftSand, 3], [eibvRightSand, 3], [eibvLeftTan, 2], [eibvRightTan, 2], [eibvLeftDeep, 1], [eibvRightDeep, 1]],
    lines: [eibvLeftLine, eibvRightLine, eibvLowLine], rings: [eibvRightCore], red: [], path: true },
  { title: "COST_{VR}", unit: "Cost", left: 3636.3, edges: levelEdges, ticks: levelTicks, base: 5,
    layers: [[vrPatchNW, 6], [vrPatchNE, 6], [vrPatchSE, 6], [vrLowPale, 6], [vrLowMid, 7], [vrLowDeep, 8], [vrCream, 4], [vrSand, 3], [vrTan, 2], [vrDeep, 1]],
    lines: [vrLineNW, vrLineNE, vrLineW, vrLineS, vrLowLine], rings: [vrCore], red: [], path: true }
];

var w = 6000, h = 800, plotTop = 96, pw = 641.6, ph = 616;
var cbGap = 681, cbWidth = 31;

// the drawing is laid out on a 6000x800 sheet and fitted to whatever window it gets
var svg = d3.select("#chart").append("svg")
  .attr("width", window.innerWidth).attr("height", window.innerHeight)
  .attr("viewBox", `0 0 ${w} ${h}`).attr("preserveAspectRatio", "none");
var defs = svg.append("defs");

function smoothClosed(x, y) {
  return d3.line().x(d => x(d[0])).y(d => y(d[1])).curve(d3.curveCatmullRomClosed.alpha(0.5));
}
function smoothOpen(x, y) {
  return d3.line().x(d => x(d[0])).y(d => y(d[1])).curve(d3.curveCatmullRom.alpha(0.5));
}
function straight(x, y) {
  return d3.line().x(d => x(d[0])).y(d => y(d[1]));
}

function drawFrame(g, left, xDomain, yDomain, title, unit, edges, ticks) {
  var x = d3.scaleLinear().domain(xDomain).range([left, left + pw]);
  var y = d3.scaleLinear().domain(yDomain).range([plotTop + ph, plotTop]);

  g.append("rect").attr("x", left).attr("y", plotTop).attr("width", pw).attr("height", ph)
    .attr("fill", "none").attr("stroke", "black").attr("stroke-width", 1.4);

  var xAxis = g.append("g").attr("transform", `translate(0,${plotTop + ph})`)
    .call(d3.axisBottom(x).tickValues(axisTicks).tickFormat(d3.format(".1f")).tickSize(5).tickPadding(6));
  var yAxis = g.append("g").attr("transform", `translate(${left},0)`)
    .call(d3.axisLeft(y).tickValues(axisTicks).tickFormat(d3.format(".1f")).tickSize(5).tickPadding(5));
  [xAxis, yAxis].forEach(a => {
    a.select(".domain").remove();
    a.selectAll("line").attr("stroke-width", 1.2);
    a.selectAll("text").style("font-family", "Liberation Serif").style("font-size", "27px");
  });

  g.append("text").attr("x", left + pw / 2).attr("y", 87).attr("text-anchor", "middle")
    .style("font-size", "31px").text(title);

  // colour bar
  var cx = left + cbGap;
  var cb = d3.scaleLinear().domain([edges[0], edges[edges.length - 1]]).range([plotTop + ph, plotTop]);
  bandColors.forEach((c, i) => {
    g.append("rect").attr("x", cx).attr("width", cbWidth)
      .attr("y", cb(edges[i + 1])).attr("height", cb(edges[i]) - cb(edges[i + 1]))
      .attr("fill", c);
  });
  g.append("rect").attr("x", cx).attr("y", plotTop).attr("width", cbWidth).attr("height", ph)
    .attr("fill", "none").attr("stroke", "black").attr("stroke-width", 1.2);
  var cbAxis = g.append("g").attr("transform", `translate(${cx + cbWidth},0)`)
    .call(d3.axisRight(cb).tickValues(ticks).tickFormat(d3.format(".1f")).tickSize(5).tickPadding(5));
  cbAxis.select(".domain").remove();
  cbAxis.selectAll("line").attr("stroke-width", 1.2);
  cbAxis.selectAll("text").style("font-family", "Liberation Serif").style("font-size", "27px");
  g.append("text").attr("x", cx + cbWidth / 2).attr("y", 87).attr("text-anchor", "middle")
    .style("font-size", "31px").text(unit);

  return { x: x, y: y };
}

function clipFor(id, left) {
  defs.append("clipPath").attr("id", id).append("rect")
    .attr("x", left).attr("y", plotTop).attr("width", pw).attr("height", ph);
}

// panels one to four
panels.forEach((p, i) => {
  var x = d3.scaleLinear().domain([0.025, 0.976]).range([p.left, p.left + pw]);
  var y = d3.scaleLinear().domain([0.044, 0.997]).range([plotTop + ph, plotTop]);
  var closed = smoothClosed(x, y), open = smoothOpen(x, y), flat = straight(x, y);

  clipFor("clip" + i, p.left);
  var g = svg.append("g");
  var plot = g.append("g").attr("clip-path", `url(#clip${i})`);

  plot.append("rect").attr("x", p.left).attr("y", plotTop).attr("width", pw).attr("height", ph).attr("fill", bandColors[p.base]);

  p.layers.forEach(l => {
    plot.append("path").attr("d", closed(l[0]))
      .attr("fill", l[1] < 0 ? "white" : bandColors[l[1]])
      .attr("stroke", "#1a1a1a").attr("stroke-opacity", 0.65).attr("stroke-width", 0.7);
  });
  p.lines.forEach(l => {
    plot.append("path").attr("d", open(l)).attr("fill", "none")
      .attr("stroke", "#1a1a1a").attr("stroke-opacity", 0.65).attr("stroke-width", 0.7);
  });
  (p.rings || []).forEach(l => {
    plot.append("path").attr("d", closed(l)).attr("fill", "none")
      .attr("stroke", "#1a1a1a").attr("stroke-opacity", 0.75).attr("stroke-width", 0.7);
  });
  p.red.forEach(l => {
    plot.append("path").attr("d", closed(l)).attr("fill", "none")
      .attr("stroke", "red").attr("stroke-width", 3.6);
  });

  cornerMasks.forEach(c => plot.append("path").attr("d", flat(c) + "Z").attr("fill", "white"));
  plot.append("path").attr("d", flat(obstacleMask) + "Z").attr("fill", "white");
  plot.append("path").attr("d", flat(obstacle)).attr("fill", "none").attr("stroke", "black").attr("stroke-width", 1.3);

  plot.append("path")
    .attr("d", d3.symbol(d3.symbolTriangle, 110)())
    .attr("transform", `translate(${x(agentNow[0])},${y(agentNow[1])}) rotate(180)`)
    .attr("fill", "black");

  if (p.path) {
    plot.append("path").attr("d", flat(agentPath)).attr("fill", "none").attr("stroke", "#bfbf00").attr("stroke-width", 2.2);
    plot.selectAll("circle").data(agentPath).enter().append("circle")
      .attr("cx", d => x(d[0])).attr("cy", d => y(d[1])).attr("r", 3).attr("fill", "#bfbf00");
  }

  drawFrame(g, p.left, [0.025, 0.976], [0.044, 0.997], p.title, p.unit, p.edges, p.ticks);
});

// panel five
(function () {
  var left = 4598.6;
  var xDomain = [0.0248, 0.9757], yDomain = [0.0263, 0.995];
  var x = d3.scaleLinear().domain(xDomain).range([left, left + pw]);
  var y = d3.scaleLinear().domain(yDomain).range([plotTop + ph, plotTop]);
  var closed = smoothClosed(x, y), open = smoothOpen(x, y), flat = straight(x, y);

  clipFor("clip4", left);
  var g = svg.append("g");
  var plot = g.append("g").attr("clip-path", "url(#clip4)");
  var thin = s => s.attr("stroke", "#1a1a1a").attr("stroke-opacity", 0.6).attr("stroke-width", 0.7);

  // field from the dark rim inwards
  plot.append("path").attr("d", flat(valleyField.concat(valleyEastEdge)) + "Z").attr("fill", "#4d2c05");
  plot.append("path").attr("d", flat(valleyFieldMid.concat(valleyEastEdge)) + "Z").attr("fill", bandColors[1]).call(thin);
  plot.append("path").attr("d", flat(valleyFieldTan.concat(valleyEastEdge)) + "Z").attr("fill", bandColors[2]).call(thin);
  plot.append("path").attr("d", closed(valleySandTop)).attr("fill", bandColors[3]).call(thin);
  plot.append("path").attr("d", closed(valleySandSouth)).attr("fill", bandColors[3]).call(thin);
  plot.append("path").attr("d", closed(valleyDeep)).attr("fill", bandColors[1]).call(thin);
  plot.append("path").attr("d", closed(valleySandStripe)).attr("fill", bandColors[3]).call(thin);
  plot.append("path").attr("d", closed(valleyCore)).attr("fill", bandColors[0]).call(thin);
  plot.append("path").attr("d", closed(valleyCoreSmall)).attr("fill", bandColors[0]).call(thin);
  valleySandBlobs.forEach(b => plot.append("path").attr("d", closed(b)).attr("fill", bandColors[3]).call(thin));
  valleyCreamBlobs.forEach(b => plot.append("path").attr("d", closed(b)).attr("fill", bandColors[4]).call(thin));
  valleyLines.forEach(l => plot.append("path").attr("d", open(l)).attr("fill", "none").call(thin));
  valleyRings.forEach(l => plot.append("path").attr("d", closed(l)).attr("fill", "none").call(thin));
  valleyHoles.forEach(b => plot.append("path").attr("d", closed(b)).attr("fill", "white"));

  // walls
  plot.append("path").attr("d", flat(valleyWallUpper) + "Z").attr("fill", "#1c2222");
  plot.append("path").attr("d", flat(valleyWallUpperBrown) + "Z").attr("fill", "#4a2a08");
  plot.append("path").attr("d", flat(valleyWallUpperEdge)).attr("fill", "none").attr("stroke", "#6b7070").attr("stroke-width", 2);
  plot.append("path").attr("d", flat(valleyWallLowerOut.concat(valleyWallLowerIn)) + "Z").attr("fill", "#1c2020");
  plot.append("path").attr("d", flat(valleyWallLowerIn)).attr("fill", "none").attr("stroke", "#6b7070").attr("stroke-width", 2);

  // tree
  treeBranches.forEach(b => {
    plot.append("path").attr("d", flat(b)).attr("fill", "none")
      .attr("stroke", "#007d00").attr("stroke-width", 1.8);
  });

  // obstacle, best path and end points
  plot.append("path").attr("d", flat(obstacle)).attr("fill", "none").attr("stroke", "#a00000").attr("stroke-width", 1.6);
  plot.append("path").attr("d", flat(obstacle)).attr("fill", "none").attr("stroke", "black").attr("stroke-width", 1);
  plot.append("path").attr("d", flat(obstacleClosure)).attr("fill", "none")
    .attr("stroke", "red").attr("stroke-width", 2.4).attr("stroke-dasharray", "12 3 3 3");
  plot.append("path").attr("d", flat(valleyBestPath)).attr("fill", "none").attr("stroke", "red").attr("stroke-width", 2);
  plot.append("path").attr("d", d3.symbol(d3.symbolTriangle, 110)())
    .attr("transform", `translate(${x(valleyStart[0])},${y(valleyStart[1])}) rotate(180)`).attr("fill", "black");
  plot.append("path").attr("d", d3.symbol(d3.symbolX, 150)())
    .attr("transform", `translate(${x(valleyGoal[0])},${y(valleyGoal[1])})`)
    .attr("fill", "none").attr("stroke", "blue").attr("stroke-width", 1.6);

  drawFrame(g, left, xDomain, yDomain, "COST_{Valley}", "Cost", valleyEdges, valleyTicks);
})();
</script>
</body>
</html>
